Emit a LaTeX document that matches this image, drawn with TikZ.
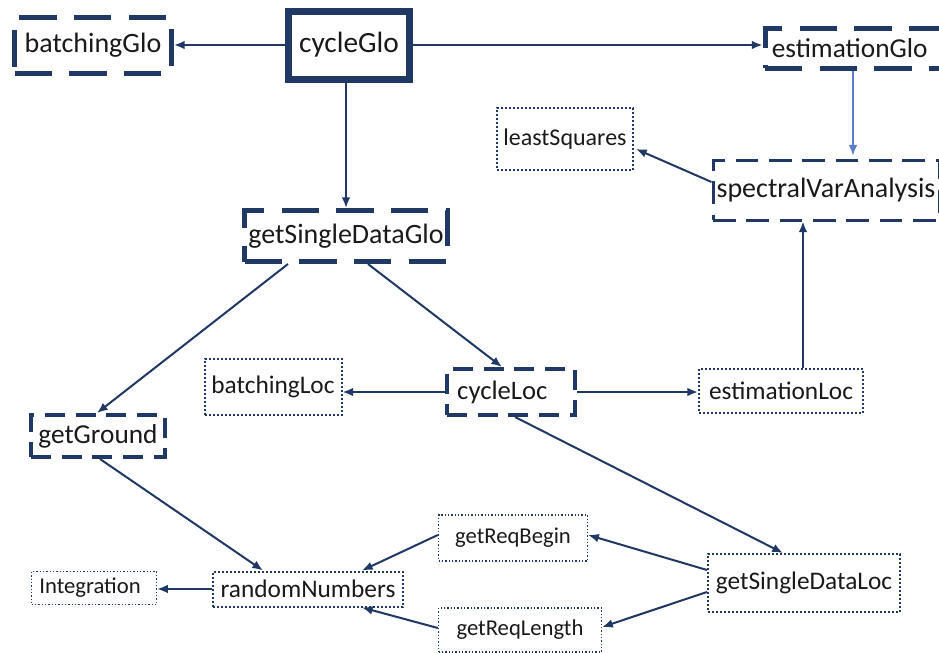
\documentclass[tikz,border=0pt]{standalone}
\usepackage{fontspec}
\setmainfont{Carlito}
\usetikzlibrary{arrows.meta,calc}
\definecolor{navy}{HTML}{1F3864}
\definecolor{lblue}{HTML}{5B7FC4}
\definecolor{txt}{HTML}{1A1A1A}
\tikzset{
 box/.style={draw=navy, rectangle, inner sep=0pt, text=txt, align=center},
 sz/.style 2 args={minimum width=#1*0.75pt, minimum height=#2*0.75pt},
 fs/.style={font=\fontsize{#1}{#1}\selectfont},
 solidbox/.style={box, line width=5.25pt},
 bigdash/.style={box, line width=3.75pt, dash pattern=on 28pt off 13pt},
 middash/.style={box, line width=3pt, dash pattern=on 15pt off 8pt},
 thindash/.style={box, line width=2.25pt, dash pattern=on 17pt off 8pt},
 dotbox/.style={box, line width=1.5pt, dash pattern=on 1.5pt off 1.5pt},
 thindot/.style={box, line width=1pt, dash pattern=on 1pt off 1.5pt},
 arr/.style={draw=navy, line width=1.5pt, -{Latex[length=8pt,width=6.5pt]}},
 larr/.style={draw=lblue, line width=1pt, -{Latex[length=8pt,width=6.5pt]}},
}
\begin{document}
\begin{tikzpicture}[x=0.75pt,y=-0.75pt]
\useasboundingbox (0,0) rectangle (939,653);
\clip (0,0) rectangle (939,653);
\fill[white] (0,0) rectangle (939,653);
% nodes
\node[bigdash, sz={157}{56}, fs=21pt] (batchingGlo) at (93,45) {batchingGlo};
\node[solidbox, sz={121}{68}, fs=22pt] (cycleGlo) at (349,45) {cycleGlo};
\node[bigdash, sz={180}{40}, fs=20.5pt] (estimationGlo) at (855,48) {\hspace*{-8pt}estimationGlo};
\node[dotbox, sz={136}{62}, fs=18pt] (leastSquares) at (565,139) {leastSquares};
\node[thindash, sz={226}{60}, fs=21pt] (spectral) at (826,190) {spectralVarAnalysis};
\node[bigdash, sz={203}{51}, fs=21pt] (getSingleDataGlo) at (346,236) {getSingleDataGlo};
\node[dotbox, sz={137}{56}, fs=19pt] (batchingLoc) at (273,387) {batchingLoc};
\node[middash, sz={128}{46}, fs=20pt] (cycleLoc) at (511,392) {\hspace*{-13pt}cycleLoc};
\node[dotbox, sz={164}{44}, fs=19pt] (estimationLoc) at (781,391) {estimationLoc};
\node[middash, sz={134}{42}, fs=20.5pt] (getGround) at (98,436) {getGround};
\node[thindot, sz={149}{46}, fs=17pt] (getReqBegin) at (513,538) {getReqBegin};
\node[dotbox, sz={190}{35}, fs=19pt] (randomNumbers) at (308,589) {randomNumbers};
\node[thindot, sz={125}{33}, fs=17pt] (Integration) at (94,588) {\hspace*{-6pt}Integration};
\node[dotbox, sz={192}{58}, fs=19pt] (getSingleDataLoc) at (804,583) {getSingleDataLoc};
\node[thindot, sz={163}{44}, fs=17pt] (getReqLength) at (520,630) {getReqLength};
\coordinate (eLoc) at ($(estimationLoc.north)+(22,0)$);
% connectors
\draw[arr] (cycleGlo.west) -- (cycleGlo.west -| batchingGlo.east);
\draw[arr] (cycleGlo.east) -- (cycleGlo.east -| estimationGlo.west);
\draw[arr] ($(cycleGlo.south)+(-3,0)$) -- ($(cycleGlo.south |- getSingleDataGlo.north)+(-3,0)$);
\draw[larr] ($(estimationGlo.south)+(-2,0)$) -- ($(estimationGlo.south |- spectral.north)+(-2,-3)$);
\draw[arr] ($(spectral.west)+(0,-8)$) -- ($(leastSquares.east)+(2,10)$);
\draw[arr] (eLoc) -- (eLoc |- spectral.south);
\draw[arr] ($(getSingleDataGlo.south)+(-58,0)$) -- ($(getGround.north)+(-1,0)$);
\draw[arr] ($(getSingleDataGlo.south)+(22,0)$) -- ($(cycleLoc.north)+(-9,0)$);
\draw[arr] (cycleLoc.west) -- (cycleLoc.west -| batchingLoc.east);
\draw[arr] (cycleLoc.east) -- (cycleLoc.east -| estimationLoc.west);
\draw[arr] ($(cycleLoc.south)+(4,0)$) -- ($(getSingleDataLoc.north)+(-21,0)$);
\draw[arr] ($(getGround.south)+(2,0)$) -- ($(randomNumbers.north)+(-45,0)$);
\draw[arr] (randomNumbers.west) -- (randomNumbers.west -| Integration.east);
\draw[arr] ($(getReqBegin.west)+(0,-3)$) -- ($(randomNumbers.north)+(54,0)$);
\draw[arr] ($(getReqLength.west)+(0,-2)$) -- ($(randomNumbers.south)+(54,0)$);
\draw[arr] ($(getSingleDataLoc.west)+(0,-13)$) -- ($(getReqBegin.east)+(0,-3)$);
\draw[arr] ($(getSingleDataLoc.west)+(0,9)$) -- ($(getReqLength.east)+(0,-3)$);
\end{tikzpicture}
\end{document}
